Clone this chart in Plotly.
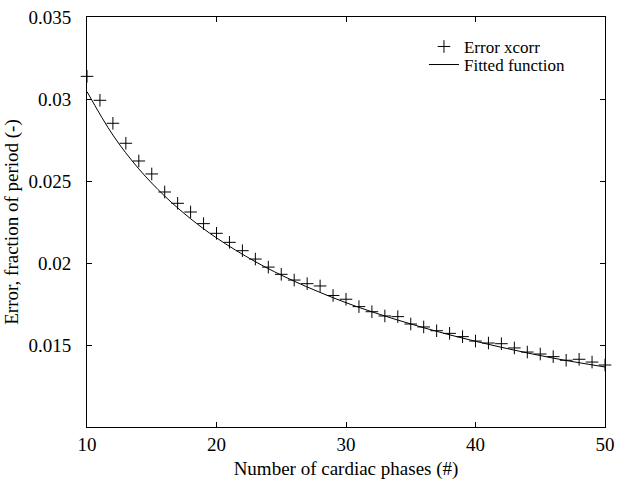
import plotly.graph_objects as go

# Cross-correlation timing error versus number of reconstructed cardiac phases
phases = list(range(10, 51))
error_xcorr = [
    0.03138, 0.02992, 0.02852, 0.02730, 0.02622, 0.02543, 0.02433, 0.02364,
    0.02311, 0.02240, 0.02181, 0.02126, 0.02075, 0.02024, 0.01975, 0.01931,
    0.01896, 0.01874, 0.01860, 0.01802, 0.01779, 0.01734, 0.01703, 0.01677,
    0.01673, 0.01628, 0.01610, 0.01587, 0.01571, 0.01551, 0.01524, 0.01512,
    0.01508, 0.01482, 0.01457, 0.01445, 0.01429, 0.01407, 0.01413, 0.01396,
    0.01378,
]

# Fitted curve, sampled along the phase axis
fit_phases = [10, 12, 14, 16, 18, 20, 23, 26, 30, 34, 38, 42, 46, 50]
fit_error = [0.03045, 0.02780, 0.02574, 0.02408, 0.02270, 0.02153, 0.02008,
             0.01889, 0.01758, 0.01652, 0.01562, 0.01486, 0.01420, 0.01366]

x_ticks = [10, 20, 30, 40, 50]
x_tick_text = ["10", "20", "30", "40", "50"]
y_ticks = [0.015, 0.02, 0.025, 0.03, 0.035]
y_tick_text = ["0.015", "0.02", "0.025", "0.03", "0.035"]

font_family = "Liberation Serif, Times New Roman, serif"

fig = go.Figure()
fig.add_trace(go.Scatter(
    x=phases, y=error_xcorr, mode="markers", name="Error xcorr",
    marker=dict(symbol="cross-thin", size=9, color="black",
                line=dict(color="black", width=1)),
    cliponaxis=False, legend="legend", showlegend=True,
))
fig.add_trace(go.Scatter(
    x=fit_phases, y=fit_error, mode="lines", name="Fitted function",
    line=dict(color="black", width=1, shape="spline"),
    legend="legend2", showlegend=True,
))

axis_common = dict(
    showline=True, linecolor="black", linewidth=1, mirror="ticks",
    ticks="inside", ticklen=5, tickcolor="black", tickwidth=1,
    showgrid=False, zeroline=False, automargin=False,
    tickfont=dict(family=font_family, size=19, color="black"),
)

fig.update_xaxes(
    range=[10, 50], tickmode="array", tickvals=x_ticks, ticktext=x_tick_text,
    title=dict(text="Number of cardiac phases (#)",
               font=dict(family=font_family, size=19, color="black"),
               standoff=12),
    **axis_common,
)
fig.update_yaxes(
    range=[0.01, 0.035], tickmode="array", tickvals=y_ticks, ticktext=y_tick_text,
    ticklabelstandoff=11,
    title=dict(text="Error, fraction of period (-)",
               font=dict(family=font_family, size=19, color="black"),
               standoff=4),
    **axis_common,
)

legend_common = dict(
    x=0.6505, xanchor="left", yanchor="middle",
    bgcolor="rgba(0,0,0,0)", borderwidth=0,
    font=dict(family=font_family, size=17, color="black"),
)

fig.update_layout(
    width=617, height=480,
    margin=dict(l=87, r=12, t=17, b=53),
    paper_bgcolor="white", plot_bgcolor="white",
    font=dict(family=font_family, color="black"),
    showlegend=True,
    legend=dict(y=0.927, **legend_common),
    legend2=dict(y=0.883, **legend_common),
)

fig.write_html("out.html")
